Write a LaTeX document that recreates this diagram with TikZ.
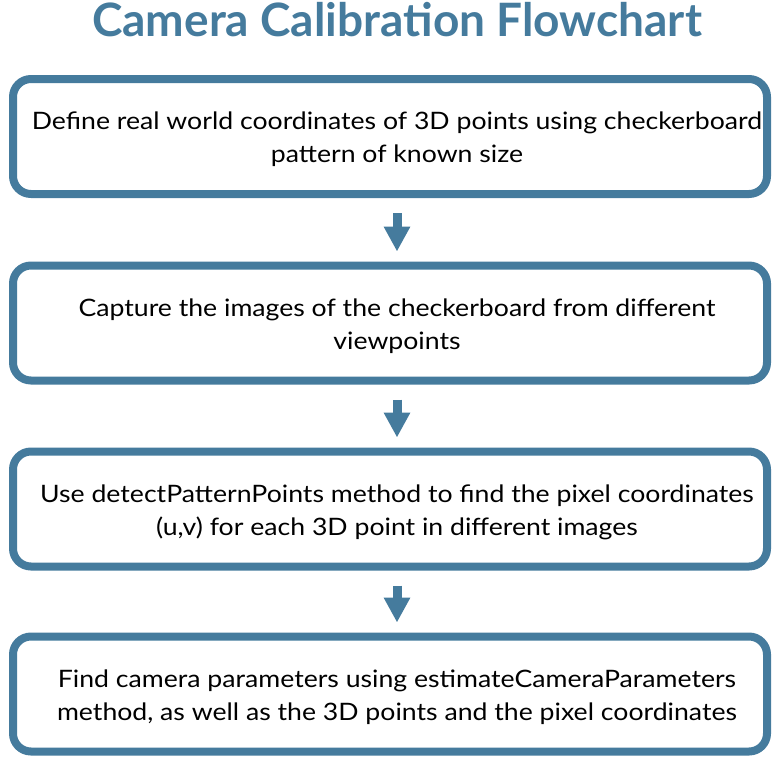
\documentclass[tikz,border=0pt]{standalone}
\usepackage{fontspec}
\setmainfont{Lato}
\newfontfamily\bodyfont[FakeStretch=1.11]{Lato}
\usetikzlibrary{arrows.meta}
\definecolor{steel}{HTML}{457B9D}
\begin{document}
\begin{tikzpicture}[x=1pt,y=-1pt,
  box/.style={draw=steel, line width=8pt, rounded corners=18pt,
    minimum width=754pt, minimum height=115pt, fill=white, inner sep=0pt},
  boxtext/.style={align=center, inner sep=0pt,
    font=\bodyfont\fontsize{24}{33}\selectfont},
  arr/.style={-{Triangle[width=25pt,length=25pt]}, line width=9pt, draw=steel,
    shorten <=15pt, shorten >=10pt},
  titlestyle/.style={font=\bfseries\fontsize{46}{50}\selectfont, text=steel}]
\useasboundingbox (0,0) rectangle (774,758);
\node[titlestyle] (title) at (397,20) {Camera Calibration Flowchart};
\node[box] (b1) at (390,136.5) {};
\node[box] (b2) at (390,323) {};
\node[box] (b3) at (390,509) {};
\node[box] (b4) at (390,694) {};
\node[boxtext] (t1) at ([xshift=7pt,yshift=-3pt]b1.center) {Define real world coordinates of 3D points using checkerboard\\pattern of known size};
\node[boxtext] (t2) at ([xshift=7pt,yshift=-3pt]b2.center) {Capture the images of the checkerboard from different\\viewpoints};
\node[boxtext] (t3) at ([xshift=7pt,yshift=-3pt]b3.center) {Use detectPatternPoints method to find the pixel coordinates\\(u,v) for each 3D point in different images};
\node[boxtext] (t4) at ([xshift=7pt,yshift=-3pt]b4.center) {Find camera parameters using estimateCameraParameters\\method, as well as the 3D points and the pixel coordinates};
\draw[arr] ([xshift=7pt]b1.south) -- ([xshift=7pt]b2.north);
\draw[arr] ([xshift=7pt]b2.south) -- ([xshift=7pt]b3.north);
\draw[arr] ([xshift=7pt]b3.south) -- ([xshift=7pt]b4.north);
\end{tikzpicture}
\end{document}
